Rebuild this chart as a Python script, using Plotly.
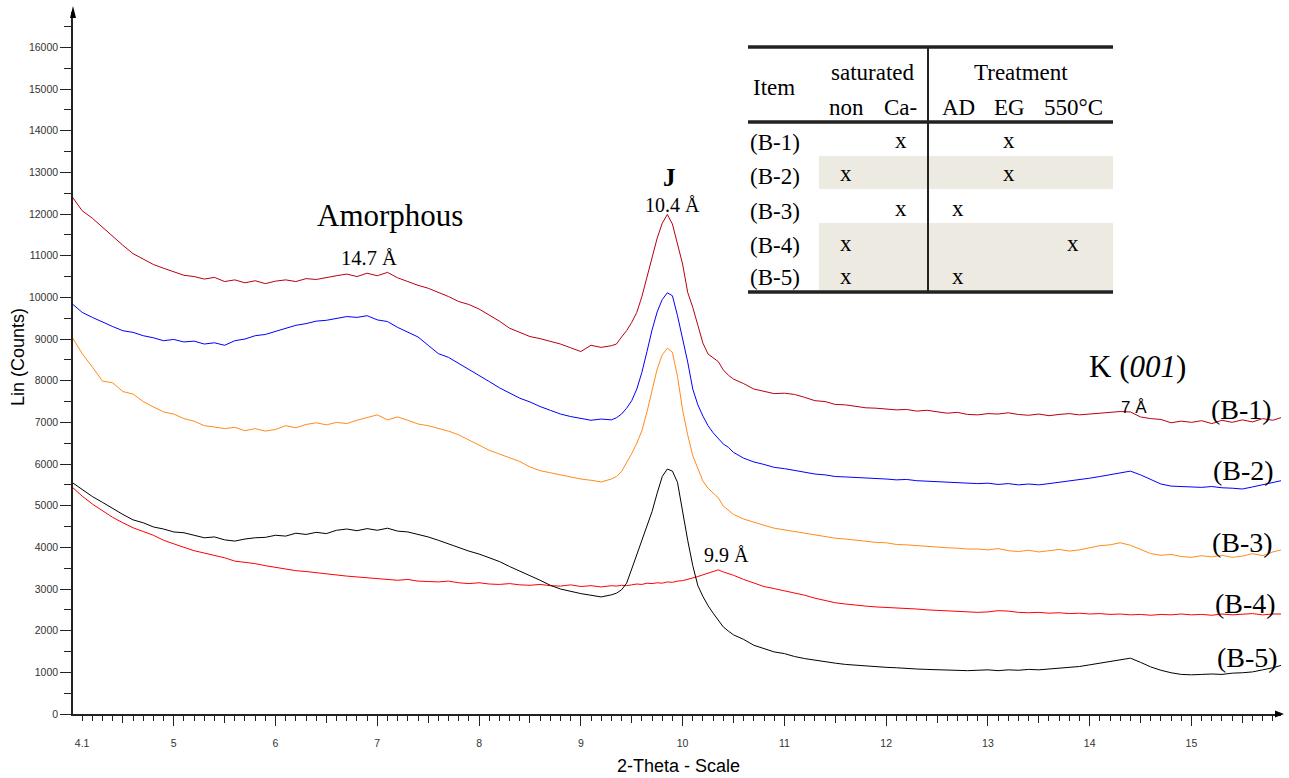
import numpy as np
import plotly.graph_objects as go

# ---------------- data ----------------
two_theta = np.concatenate([
    np.round(np.arange(4.0, 9.3001, 0.1), 2),
    np.round(np.arange(9.35, 10.5001, 0.05), 2),
    np.round(np.arange(10.6, 15.9001, 0.1), 2),
])

b1 = [12420, 12080, 11900, 11680, 11480, 11250, 11050, 10930, 10790, 10700,
      10620, 10530, 10500, 10440, 10480, 10380, 10420, 10350, 10400, 10330,
      10390, 10420, 10380, 10450, 10430, 10480, 10520, 10560, 10500, 10580,
      10520, 10600, 10470, 10380, 10290, 10220, 10120, 10020, 9900, 9830,
      9720, 9580, 9430, 9260, 9160, 9060, 9010, 8940, 8880, 8790,
      8700, 8850, 8800, 8840,
      8880, 9050, 9200, 9400, 9640, 10020, 10480, 10980, 11420, 11780,
      11990, 11760, 11300, 10800, 10120, 9760, 9330, 8900, 8640, 8560,
      8460, 8260, 8130, 8040,
      7930, 7800, 7740, 7690,
      7700, 7670, 7600, 7520, 7500, 7430, 7420, 7380, 7350, 7340,
      7320, 7300, 7310, 7270, 7290, 7250, 7220, 7240, 7190, 7180,
      7210, 7200, 7230, 7190, 7170, 7200, 7160, 7190, 7210, 7180,
      7200, 7220, 7240, 7260, 7250, 7130, 7090, 7070, 6990, 7030,
      7000, 7040, 6970, 7050, 7000, 7060, 7010, 7090, 7050, 7130]

b2 = [9850, 9640, 9520, 9400, 9300, 9200, 9160, 9080, 9030, 8960,
      8990, 8930, 8950, 8880, 8910, 8850, 8960, 9000, 9080, 9110,
      9180, 9250, 9330, 9370, 9430, 9450, 9500, 9540, 9520, 9560,
      9460, 9420, 9280, 9170, 9050, 8850, 8650, 8560, 8420, 8280,
      8130, 7980, 7830, 7700, 7580, 7490, 7380, 7290, 7200, 7140,
      7090, 7050, 7080, 7060,
      7110, 7200, 7340, 7520, 7800, 8200, 8700, 9220, 9650, 9950,
      10110, 10040, 9560, 9000, 8450, 7800, 7420, 7150, 6920, 6750,
      6620, 6480, 6400, 6280,
      6140, 6050, 5990, 5920,
      5890, 5850, 5810, 5760, 5740, 5700, 5690, 5680, 5660, 5650,
      5640, 5620, 5630, 5600, 5590, 5580, 5570, 5560, 5550, 5530,
      5540, 5510, 5530, 5500, 5520, 5500, 5530, 5560, 5590, 5620,
      5660, 5700, 5740, 5780, 5830, 5740, 5620, 5520, 5470, 5460,
      5450, 5440, 5460, 5430, 5420, 5400, 5450, 5500, 5560, 5610]

b3 = [9050, 8650, 8330, 7990, 7950, 7740, 7680, 7500, 7370, 7250,
      7200, 7090, 7030, 6920, 6890, 6850, 6880, 6800, 6850, 6790,
      6830, 6920, 6870, 6950, 6990, 6940, 7000, 6970, 7050, 7120,
      7180, 7060, 7130, 7050, 6960, 6920, 6850, 6790, 6700, 6580,
      6460, 6330, 6240, 6150, 6060, 5930, 5840, 5790, 5740, 5690,
      5640, 5610, 5570, 5640,
      5700, 5820, 6020, 6250, 6500, 6800, 7250, 7780, 8280, 8620,
      8780, 8680, 8100, 7300, 6700, 6200, 5880, 5590, 5420, 5300,
      5190, 4990, 4880, 4790,
      4680, 4600, 4530, 4460,
      4420, 4380, 4330, 4300, 4260, 4220, 4200, 4170, 4150, 4120,
      4110, 4070, 4060, 4040, 4020, 4010, 3990, 3980, 3960, 3960,
      3940, 3970, 3920, 3900, 3930, 3890, 3920, 3950, 3910, 3940,
      3990, 4040, 4060, 4110, 4050, 3950, 3850, 3810, 3830, 3780,
      3760, 3800, 3770, 3810, 3760, 3790, 3850, 3800, 3890, 3950]

b4 = [5450, 5230, 5040, 4880, 4720, 4590, 4470, 4380, 4290, 4170,
      4080, 4000, 3920, 3860, 3800, 3750, 3670, 3640, 3610, 3560,
      3520, 3490, 3440, 3420, 3390, 3360, 3340, 3310, 3290, 3270,
      3250, 3240, 3210, 3230, 3190, 3180, 3170, 3190, 3150, 3130,
      3150, 3120, 3110, 3130, 3100, 3090, 3110, 3080, 3070, 3100,
      3060, 3080, 3050, 3080,
      3070, 3090, 3080, 3100, 3120, 3110, 3140, 3130, 3150, 3140,
      3170, 3160, 3190, 3200, 3230, 3260, 3300, 3340, 3380, 3420,
      3460, 3410, 3370, 3330,
      3230, 3140, 3060, 3010,
      2960, 2900, 2850, 2780, 2730, 2670, 2640, 2610, 2590, 2570,
      2560, 2550, 2530, 2520, 2500, 2490, 2470, 2460, 2450, 2440,
      2450, 2480, 2470, 2440, 2430, 2440, 2420, 2430, 2410, 2420,
      2400, 2410, 2390, 2400, 2380, 2390, 2370, 2390, 2380, 2400,
      2380, 2390, 2370, 2400, 2380, 2390, 2410, 2380, 2400, 2400]

b5 = [5560, 5380, 5220, 5080, 4930, 4790, 4660, 4590, 4490, 4440,
      4370, 4350, 4290, 4230, 4250, 4180, 4150, 4200, 4230, 4240,
      4290, 4270, 4340, 4310, 4360, 4330, 4410, 4440, 4400, 4450,
      4410, 4460, 4390, 4370, 4310, 4250, 4170, 4080, 3990, 3910,
      3840, 3750, 3660, 3540, 3420, 3320, 3210, 3090, 3000, 2940,
      2890, 2850, 2810, 2860,
      2900, 2980, 3140, 3480, 3830, 4130, 4500, 4860, 5300, 5700,
      5880, 5830, 5560, 4850, 4170, 3560, 3080, 2820, 2600, 2420,
      2250, 2090, 1990, 1900,
      1790, 1650, 1570, 1490,
      1450, 1380, 1330, 1290, 1250, 1220, 1190, 1170, 1150, 1130,
      1120, 1110, 1090, 1080, 1070, 1060, 1060, 1050, 1040, 1050,
      1060, 1040, 1060, 1050, 1070, 1060, 1080, 1100, 1120, 1140,
      1180, 1220, 1260, 1300, 1340, 1240, 1130, 1050, 990, 950,
      940, 950, 960, 950, 980, 990, 1010, 1060, 1110, 1180]

series_names = ["(B-1)", "(B-2)", "(B-3)", "(B-4)", "(B-5)"]
series_values = [b1, b2, b3, b4, b5]
series_colors = ["#B80010", "#0000FF", "#FF8C1A", "#FF0000", "#000000"]

x_label_vals = [4.1, 5, 6, 7, 8, 9, 10, 11, 12, 13, 14, 15]
x_label_text = ["4.1", "5", "6", "7", "8", "9", "10", "11", "12", "13", "14", "15"]

# table content
table_items = ["(B-1)", "(B-2)", "(B-3)", "(B-4)", "(B-5)"]
table_cols = ["non", "Ca-", "AD", "EG", "550°C"]
table_marks = [
    [0, 1, 0, 1, 0],
    [1, 0, 0, 1, 0],
    [0, 1, 1, 0, 0],
    [1, 0, 0, 0, 1],
    [1, 0, 1, 0, 0],
]

# ---------------- figure ----------------
W, H = 1289, 778
L, R, T, B = 73, 8, 12, 64
PW, PH = W - L - R, H - T - B


def px(x):
    return (x - L) / PW


def py(y):
    return (H - B - y) / PH


fig = go.Figure()
for name, vals, col in zip(series_names, series_values, series_colors):
    assert len(vals) == len(two_theta), (name, len(vals))
    fig.add_trace(go.Scatter(x=two_theta, y=vals, mode="lines", name=name,
                             line=dict(color=col, width=1), showlegend=False,
                             hoverinfo="skip"))

# empty helper traces for overlay tick axes
fig.add_trace(go.Scatter(x=[], y=[], xaxis="x2", showlegend=False))
fig.add_trace(go.Scatter(x=[], y=[], xaxis="x3", showlegend=False))

XR = [4.01, 15.88]
tickfont = dict(family="Liberation Sans, Arial", size=10.5, color="#333333")

annotations = []
shapes = []


def text(s, x, y, size, family="Liberation Serif, Times New Roman", **kw):
    annotations.append(dict(text=s, x=px(x), y=py(y), xref="paper", yref="paper",
                            showarrow=False, xanchor="center", yanchor="middle",
                            font=dict(family=family, size=size, color="black"), **kw))


# axis titles
text("Lin (Counts)", 18, 357, 18, family="Liberation Sans, Arial", textangle=-90)
text("2-Theta - Scale", 678, 766, 18, family="Liberation Sans, Arial")

# chart annotations
text("Amorphous", 390, 216, 31)
text("14.7 Å", 369, 258, 20.5)
text("<b>J</b>", 669, 177, 25)
text("10.4 Å", 672, 205, 20)
text("9.9 Å", 726, 555, 20)
text("K (<i>001</i>)", 1137, 366, 31)
text("7 Å", 1134, 407, 17, family="Liberation Sans, Arial")
label_pos = [(1241, 409), (1243, 470), (1242, 542), (1245, 603), (1247, 657)]
for name, (lx, ly) in zip(series_names, label_pos):
    text(name, lx, ly, 28)

# table
tx0, tx1 = 748, 1113
shade = "#ECEAE1"
for (y0, y1) in [(156, 189), (223, 290)]:
    shapes.append(dict(type="rect", xref="paper", yref="paper", x0=px(819), x1=px(tx1),
                       y0=py(y1), y1=py(y0), fillcolor=shade, line=dict(width=0), layer="above"))
for yl in [47, 122, 292]:
    shapes.append(dict(type="line", xref="paper", yref="paper", x0=px(tx0), x1=px(tx1),
                       y0=py(yl), y1=py(yl), line=dict(color="#222222", width=3.5)))
shapes.append(dict(type="line", xref="paper", yref="paper", x0=px(928), x1=px(928),
                   y0=py(47), y1=py(292), line=dict(color="#222222", width=2)))

tsize = 23
text("Item", 774, 88, tsize)
text("saturated", 873, 73, tsize)
text("Treatment", 1021, 73, tsize)
col_x = [846, 901, 958, 1009, 1073]
for c, cx in zip(table_cols, col_x):
    text(c, cx, 108, tsize)
row_y = [142, 176, 211, 245, 278]
for item, marks, ry in zip(table_items, table_marks, row_y):
    text(item, 775, ry, tsize)
    for m, cx in zip(marks, col_x):
        if m:
            text("x", cx, ry - 2, tsize)

# axis arrowheads
shapes.append(dict(type="path", xref="paper", yref="paper",
                   path=f"M {px(70)} {py(18)} L {px(76)} {py(18)} L {px(73)} {py(6)} Z",
                   fillcolor="black", line=dict(width=0)))
shapes.append(dict(type="path", xref="paper", yref="paper",
                   path=f"M {px(1275)} {py(710.5)} L {px(1275)} {py(717.5)} L {px(1284)} {py(714)} Z",
                   fillcolor="black", line=dict(width=0)))

fig.update_layout(
    width=W, height=H,
    margin=dict(l=L, r=R, t=T, b=B, autoexpand=False),
    paper_bgcolor="white", plot_bgcolor="white",
    xaxis=dict(range=XR, showgrid=False, zeroline=False, showline=True, automargin=False,
               linecolor="#222222", linewidth=1.5,
               tickmode="array", tickvals=x_label_vals, ticktext=x_label_text,
               ticks="outside", ticklen=5, tickwidth=1, tickcolor="#222222",
               tickfont=tickfont, ticklabelstandoff=14,
               minor=dict(ticks="outside", ticklen=5, tickwidth=1, tickcolor="#222222",
                          tickmode="linear", tick0=4.0, dtick=0.1, showgrid=False)),
    xaxis2=dict(range=XR, overlaying="x", anchor="y", showgrid=False, zeroline=False,
                showline=False, tickmode="array", tickvals=list(range(5, 16)), automargin=False,
                ticks="outside", ticklen=11, tickwidth=1, tickcolor="#222222",
                showticklabels=False),
    xaxis3=dict(range=XR, overlaying="x", anchor="y", showgrid=False, zeroline=False,
                showline=False, tickmode="array", automargin=False,
                tickvals=[4.5 + i for i in range(12)],
                ticks="outside", ticklen=8, tickwidth=1, tickcolor="#222222",
                showticklabels=False),
    yaxis=dict(range=[0, 16850], showgrid=False, zeroline=False, showline=True, automargin=False,
               linecolor="#222222", linewidth=1.5, tickformat="d",
               tickmode="linear", tick0=0, dtick=1000,
               ticks="outside", ticklen=11, tickwidth=1, tickcolor="#222222",
               tickfont=tickfont,
               minor=dict(ticks="outside", ticklen=7, tickwidth=1, tickcolor="#222222",
                          tickmode="linear", tick0=0, dtick=500, showgrid=False)),
    annotations=annotations,
    shapes=shapes,
)

fig.write_html("out.html", config={"displayModeBar": False},
               post_script="document.body.style.margin='0';document.body.style.overflow='hidden';")
